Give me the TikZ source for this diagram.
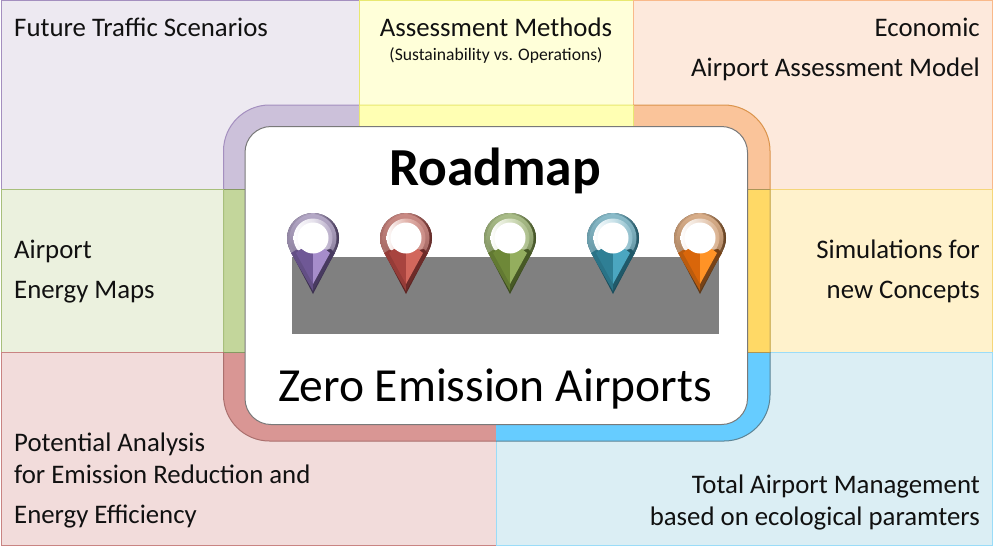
\documentclass[tikz,border=0pt]{standalone}
\usepackage{fontspec}
\setmainfont{Carlito}
\definecolor{pBg}{HTML}{EDE9F1}\definecolor{pRing}{HTML}{CCC1DA}\definecolor{pLn}{HTML}{A48FBF}
\definecolor{yBg}{HTML}{FFFFD9}\definecolor{yRing}{HTML}{FFFFB3}\definecolor{yLn}{HTML}{E8E870}
\definecolor{oBg}{HTML}{FDE9DC}\definecolor{oRing}{HTML}{FAC49A}\definecolor{oLn}{HTML}{F9B98A}
\definecolor{gBg}{HTML}{EBF1DE}\definecolor{gRing}{HTML}{C3D69B}\definecolor{gLn}{HTML}{A8BF7C}
\definecolor{dBg}{HTML}{FFF2CC}\definecolor{dRing}{HTML}{FFD966}\definecolor{dLn}{HTML}{F5D67A}
\definecolor{rBg}{HTML}{F2DCDB}\definecolor{rRing}{HTML}{D99694}\definecolor{rLn}{HTML}{C98482}
\definecolor{bBg}{HTML}{DBEEF4}\definecolor{bRing}{HTML}{66CCFF}\definecolor{bLn}{HTML}{9ADCF8}
\definecolor{txt}{HTML}{111111}
\newcommand{\panelbox}[6]{% x0 y0 x1 y1 fill line
  \path[fill=#5,draw=#6,line width=1pt] (#1,#2) rectangle (#3,#4);}
\newcommand{\ringpart}[6]{% clip box, fill, line
  \begin{scope}
    \clip (#1,#2) rectangle (#3,#4);
    \path[fill=#5,draw=#6,line width=1pt,rounded corners=46pt] (223.5,105) rectangle (770,441);
  \end{scope}}
\newcommand{\droppath}{(0,56) -- (-20,18) .. controls (-24,11) and (-26,6) .. (-26,0) .. controls (-26,-14) and (-14,-25) .. (0,-25) .. controls (14,-25) and (26,-14) .. (26,0) .. controls (26,6) and (24,11) .. (20,18) -- cycle}
\newcommand{\locpin}[6]{% x, ring light, base, facet light, dark, ring mid
  \definecolor{pinA}{HTML}{#2}\definecolor{pinB}{HTML}{#3}\definecolor{pinC}{HTML}{#4}%
  \definecolor{pinD}{HTML}{#5}\definecolor{pinE}{HTML}{#6}%
  \begin{scope}[shift={(#1,238)}]
    \path[fill=pinD] \droppath;
    \begin{scope}
      \clip \droppath;
      \path[left color=pinE!70!pinD,right color=pinD,middle color=pinE] (-27,-26) rectangle (27,14);
    \end{scope}
    \path[top color=pinE,bottom color=pinE!60!pinD] (0,0) circle (23.5);
    \path[left color=white,right color=pinE,middle color=pinA] (0,0) circle (19.5);
    \path[fill=pinB!75!pinD] (0,53) -- (-22,15) -- (-17,12) -- (0,14) -- cycle;
    \path[fill=pinD!80!pinB] (0,53) -- (22,15) -- (18,11) -- (0,14) -- cycle;
    \path[fill=pinB] (0,46) -- (-17,15) -- (-12,11) -- (0,14) -- cycle;
    \path[fill=pinC] (0,46) -- (17,15) -- (12,11) -- (0,14) -- cycle;
    \path[fill=white] (0,0) circle (15.5);
  \end{scope}}
\tikzset{
  lbl/.style={inner sep=0pt,text=txt,font=\fontsize{26.8}{26.8}\selectfont},
  lft/.style={lbl,anchor=base west},
  rgt/.style={lbl,anchor=base east},
  mid/.style={lbl,anchor=base}
}
\begin{document}
\begin{tikzpicture}[x=1pt,y=-1pt]
\useasboundingbox (0,0) rectangle (1000,547);
\fill[white] (0,0) rectangle (1000,547);
% outer panels
\panelbox{1}{0.5}{359}{189}{pBg}{pLn}
\panelbox{359}{0.5}{633}{106}{yBg}{yLn}
\panelbox{633}{0.5}{992}{189}{oBg}{oLn}
\panelbox{1}{189}{224}{352}{gBg}{gLn}
\panelbox{770}{189}{992}{352}{dBg}{dLn}
\panelbox{1}{352}{496}{545.5}{rBg}{rLn}
\panelbox{496}{352}{992}{545.5}{bBg}{bLn}
% frame ring
\ringpart{200}{100}{359}{189}{pRing}{pLn}
\ringpart{359}{100}{633}{189}{yRing}{yLn}
\ringpart{633}{100}{790}{189}{oRing}{orange!80!black!70}
\ringpart{200}{189}{359}{352}{gRing}{gLn}
\ringpart{633}{189}{790}{352}{dRing}{dLn!80!black}
\ringpart{200}{352}{496}{460}{rRing}{rLn!85!black}
\ringpart{496}{352}{790}{460}{bRing}{bLn!60!black}
\draw[yLn,line width=.8pt] (359,105) -- (359,126) (633,105) -- (633,126);
\draw[gLn!80!black,line width=.8pt] (224,189) -- (245,189) (224,352) -- (245,352);
\draw[dLn!70!black,line width=.8pt] (748,189) -- (770,189) (748,352) -- (770,352);
% centre
\path[fill=white,draw=gray!95!black,line width=1pt,rounded corners=26pt] (245,126.5) rectangle (747.5,424.5);
\fill[black!50] (292,256.5) rectangle (718.5,334);
% pins
\locpin{313}{E6E2EC}{6F5896}{A68DCB}{3E3252}{B5A9C6}
\locpin{406}{E2B4AC}{A8443F}{D2675C}{5E2523}{C98A84}
\locpin{510}{D6E0C2}{6E8838}{94AE5E}{3D4D20}{A9BC88}
\locpin{613}{CBE3EA}{2F7F95}{4BA6C0}{1C4F5E}{8ABBC9}
\locpin{700}{ECD9CA}{D9660A}{FF9326}{5E3A1A}{D9AE8A}
% texts
\node[lft] (future) at (14,36.5) {Future Traffic Scenarios};
\node[mid] (assess) at (496,36.5) {Assessment Methods};
\node[lbl,anchor=base,font=\fontsize{17.6}{17.6}\selectfont] (assesssub) at (496,60.5) {(Sustainability vs. Operations)};
\node[rgt] (econ1) at (980,36.5) {Economic};
\node[rgt] (econ2) at (980,76.5) {Airport Assessment Model};
\node[lft] (energy1) at (14,258) {Airport};
\node[lft] (energy2) at (14,298) {Energy Maps};
\node[rgt] (sim1) at (980,258) {Simulations for};
\node[rgt] (sim2) at (980,298) {new Concepts};
\node[lft] (pot1) at (14,451.5) {Potential Analysis};
\node[lft] (pot2) at (14,483.5) {for Emission Reduction and};
\node[lft] (pot3) at (14,523) {Energy Efficiency};
\node[rgt] (tam1) at (980,493.5) {Total Airport Management};
\node[rgt] (tam2) at (980,525.5) {based on ecological paramters};
\node[mid,font=\bfseries\fontsize{53.5}{53.5}\selectfont,text=black] (road) at (495,185) {Roadmap};
\node[mid,font=\fontsize{47.5}{47.5}\selectfont,text=black] (zero) at (495,401) {Zero Emission Airports};
\end{tikzpicture}
\end{document}
